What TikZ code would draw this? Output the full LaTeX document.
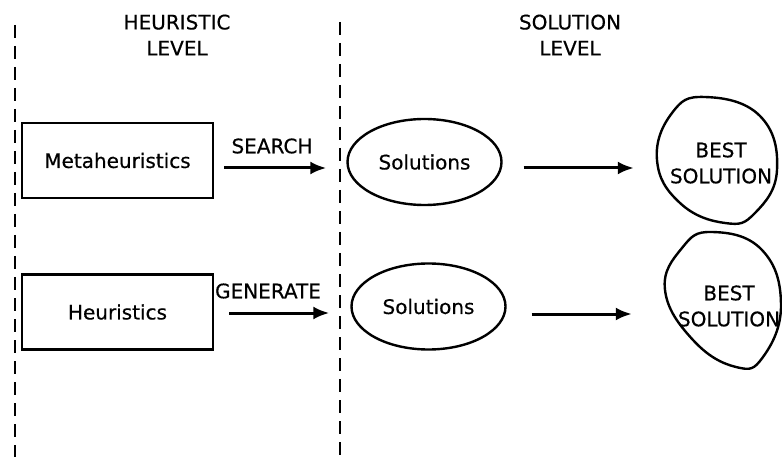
\documentclass[tikz,border=0pt]{standalone}
\usepackage{fontspec}
\setmainfont{DejaVu Sans}
\newfontfamily\lblfont{DejaVu Sans}[FakeBold=0.5]
\usetikzlibrary{arrows.meta,shapes.geometric}

\begin{document}
\begin{tikzpicture}[x=1pt,y=-1pt,
  lbl/.style={font=\lblfont\fontsize{20}{26}\selectfont, align=center, inner sep=0pt},
  divider/.style={line width=2.2pt, dash pattern=on 13pt off 8pt},
  levelbox/.style={draw, line width=2.4pt, minimum width=191pt, minimum height=75pt, lbl},
  solset/.style={draw, ellipse, line width=2.4pt, minimum width=154pt, minimum height=86pt, lbl},
  bestspot/.style={circle, minimum size=122pt, lbl},
  blob/.style={line width=2.4pt},
  flow/.style={line width=3pt, -{Latex[length=16pt,width=13pt]}},
]
\useasboundingbox (0,0) rectangle (782,457);

% level dividers
\draw[divider] (15,25) -- (15,457);
\draw[divider] (340,22) -- (340,457);

% level headings
\node[lbl] (hlevel) at (177,35) {HEURISTIC\\LEVEL};
\node[lbl] (slevel) at (570,35) {SOLUTION\\LEVEL};

% heuristic level
\node[levelbox] (meta) at (117.5,160.5) {Metaheuristics};
\node[levelbox] (heur) at (117.5,312) {Heuristics};

% solution sets
\node[solset] (sol1) at (424.5,162) {Solutions};
\node[solset] (sol2) at (428.5,306.5) {Solutions};

% best solutions: text spots with hand-drawn outlines round them
\node[bestspot] (best1) at (721,163) {BEST\\SOLUTION};
\node[bestspot] (best2) at (729,306) {BEST\\SOLUTION};
\draw[blob] plot[smooth cycle, tension=0.75] coordinates
  {(705,97) (760,116) (777,170) (755,213) (725,223) (680,203) (657,160) (672,113)};
\draw[blob] plot[smooth cycle, tension=0.75] coordinates
  {(712,232) (762,250) (781,305) (763,357) (736,367) (693,340) (665,290) (682,248)};

% flow labels
\node[lbl] (search) at (272,146) {SEARCH};
\node[lbl] (generate) at (268,291) {GENERATE};

% flows
\draw[flow, shorten <=10pt, shorten >=20pt] ([yshift=-7.5pt]meta.east) -- ([yshift=-6pt]sol1.west);
\draw[flow, shorten <=21pt, shorten >=26pt] ([yshift=-6pt]sol1.east) -- ([yshift=-5pt]best1.west);
\draw[flow, shorten <=15pt, shorten >=21pt] ([yshift=-1pt]heur.east) -- ([yshift=-6.5pt]sol2.west);
\draw[flow, shorten <=25pt, shorten >=36pt] ([yshift=-7.5pt]sol2.east) -- ([yshift=-8pt]best2.west);
\end{tikzpicture}
\end{document}
